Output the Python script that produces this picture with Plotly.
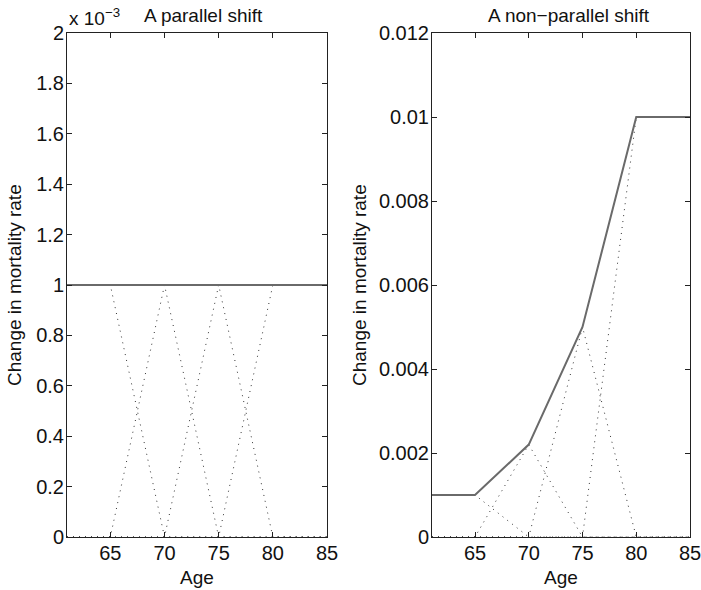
import plotly.graph_objects as go

# ---- data ----
ages = [61, 65, 70, 75, 80, 85]

# parallel shift: components (hat functions scaled) and total
par_c65 = [0.001, 0.001, 0.0, 0.0, 0.0, 0.0]
par_c70 = [0.0, 0.0, 0.001, 0.0, 0.0, 0.0]
par_c75 = [0.0, 0.0, 0.0, 0.001, 0.0, 0.0]
par_c80 = [0.0, 0.0, 0.0, 0.0, 0.001, 0.001]
par_total = [0.001, 0.001, 0.001, 0.001, 0.001, 0.001]

# non-parallel shift
np_c65 = [0.001, 0.001, 0.0, 0.0, 0.0, 0.0]
np_c70 = [0.0, 0.0, 0.0022, 0.0, 0.0, 0.0]
np_c75 = [0.0, 0.0, 0.0, 0.005, 0.0, 0.0]
np_c80 = [0.0, 0.0, 0.0, 0.0, 0.01, 0.01]
np_total = [0.001, 0.001, 0.0022, 0.005, 0.01, 0.01]

x_ticks = [65, 70, 75, 80, 85]
left_yticks = [0, 0.0002, 0.0004, 0.0006, 0.0008, 0.001, 0.0012, 0.0014, 0.0016, 0.0018, 0.002]
left_ylabels = ["0", "0.2", "0.4", "0.6", "0.8", "1", "1.2", "1.4", "1.6", "1.8", "2"]
right_yticks = [0, 0.002, 0.004, 0.006, 0.008, 0.01, 0.012]
right_ylabels = ["0", "0.002", "0.004", "0.006", "0.008", "0.01", "0.012"]

W, H = 701, 590
FONT = "Liberation Sans, Arial, Helvetica, sans-serif"
FS = 19
TFS = 20

fig = go.Figure()

dot_style = dict(color="#333333", width=1, dash="1px,5px")
solid_style = dict(color="#6a6a6a", width=2)

for c in [par_c65, par_c70, par_c75, par_c80]:
    fig.add_trace(go.Scatter(x=ages, y=c, mode="lines", line=dot_style,
                             xaxis="x", yaxis="y", showlegend=False, hoverinfo="skip"))
fig.add_trace(go.Scatter(x=ages, y=par_total, mode="lines", line=solid_style,
                         xaxis="x", yaxis="y", showlegend=False))

for c in [np_c65, np_c70, np_c75, np_c80]:
    fig.add_trace(go.Scatter(x=ages, y=c, mode="lines", line=dot_style,
                             xaxis="x2", yaxis="y2", showlegend=False, hoverinfo="skip"))
fig.add_trace(go.Scatter(x=ages, y=np_total, mode="lines", line=solid_style,
                         xaxis="x2", yaxis="y2", showlegend=False))

x1 = [67 / W, 327 / W]
x2 = [432 / W, 690 / W]
ydom = [1 - 537 / H, 1 - 33 / H]

axis_common = dict(showgrid=False, zeroline=False, showline=True, linecolor="#222222",
                   linewidth=1, mirror="ticks", ticks="inside", ticklen=5,
                   tickcolor="#222222", automargin=False, ticklabeloverflow="allow",
                   tickfont=dict(family=FONT, size=TFS, color="#111111"))

fig.update_layout(
    width=W, height=H,
    margin=dict(l=0, r=0, t=0, b=0, pad=0),
    paper_bgcolor="white", plot_bgcolor="white",
    xaxis=dict(domain=x1, range=[61, 85], tickvals=x_ticks, anchor="y",
               ticklabelstandoff=-2, **axis_common),
    yaxis=dict(domain=ydom, range=[0, 0.002], tickvals=left_yticks, ticktext=left_ylabels,
               anchor="x", ticklabelstandoff=-2, **axis_common),
    xaxis2=dict(domain=x2, range=[61, 85], tickvals=x_ticks, anchor="y2",
                ticklabelstandoff=-2, **axis_common),
    yaxis2=dict(domain=ydom, range=[0, 0.012], tickvals=right_yticks, ticktext=right_ylabels,
                anchor="x2", ticklabelstandoff=-2, **axis_common),
)

def ann(text, xpx, ypx, angle=0, xanchor="center"):
    fig.add_annotation(text=text, x=xpx / W, y=1 - ypx / H, xref="paper", yref="paper",
                       showarrow=False, textangle=angle, xanchor=xanchor, yanchor="middle",
                       font=dict(family=FONT, size=FS, color="#111111"))

ann("A parallel shift", 203, 15)
ann("A non\u2212parallel shift", 569, 15)
ann("x 10<sup>\u22123</sup>", 67, 17, xanchor="left")
ann("Age", 197, 577)
ann("Age", 561, 577)
ann("Change in mortality rate", 14, 285, angle=-90)
ann("Change in mortality rate", 359, 285, angle=-90)

fig.write_html("out.html")
